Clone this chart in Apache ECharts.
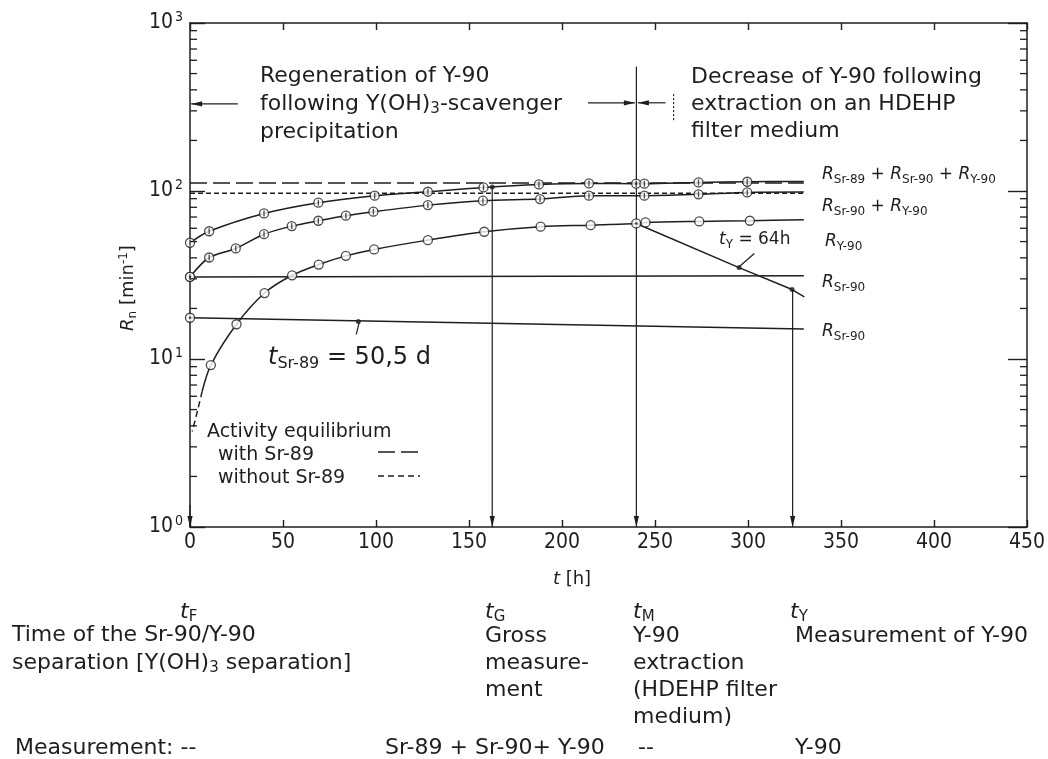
<!DOCTYPE html>
<html>
<head>
<meta charset="utf-8">
<title>Sr-90 / Y-90 count rates</title>
<script src="https://cdn.jsdelivr.net/npm/echarts@6/dist/echarts.min.js"></script>
<style>
html, body { margin: 0; padding: 0; background: #fff; }
#chart { width: 1048px; height: 759px; }
</style>
</head>
<body>
<div id="chart"></div>
<script>
// time t [h] and count rate R [1/min]
const totalT = [0, 10.3, 39.8, 69, 99.3, 127.9, 157.8, 187.6, 214.5, 239.9, 244.3, 273.4, 299.6]
const totalR = [49.2, 57.6, 73.5, 85.2, 93.8, 99, 105, 109.4, 111, 110.5, 110.5, 112.5, 113.5]
const sumT = [0, 10.3, 24.6, 39.8, 54.7, 69, 83.8, 98.6, 127.9, 157.5, 188.2, 214.5, 244.3, 273.4, 299.6]
const sumR = [30.8, 40.2, 45.5, 55.3, 61.8, 66.5, 71.3, 75.3, 82.4, 87.6, 89.5, 93.8, 93.8, 95.5, 98.1]
const yT = [11.2, 25, 40.1, 54.9, 69.2, 83.8, 99, 127.9, 158.2, 188.5, 215.4, 239.9, 244.9, 273.8, 301]
const yR = [9.2, 16.1, 24.7, 31.5, 36.5, 41.1, 44.9, 51, 57.2, 61.3, 62.6, 64.1, 65, 65.9, 66.5]
const yStartT = [6.5, 4, 1.2]          // dashed beginning of the Y-90 ingrowth
const yStartR = [6.4, 4.9, 3.7]
const endT = 330
const totalEnd = 114
const sumEnd = 98.5
const yEnd = 67.4
const sr90T = [0, 330]
const sr90R = [30.8, 31.3]
const sr89T = [0, 330]
const sr89R = [17.6, 15.1]
const decayT = [239.9, 295.2, 323.7, 330.3]
const decayR = [64.1, 35, 25.9, 23.4]
const eqWith = 111.5
const eqWithout = 97

// filled dots on the curves
const dotT = [162.5, 90.5, 295.2, 323.7]
const dotR = [105.5, 16.7, 35, 25.9]

// marker times
const tG = 162.5, tM = 240, tY = 324

// annotation segments: [t1, R1, t2, R2, arrowAtEnd, dashed]
const segments = [
    [0, 1.35, 0, 1, 1, 0],
    [tG, 105.5, tG, 1, 1, 0],
    [tM, 550, tM, 1, 1, 0],
    [tY, 25.9, tY, 1, 1, 0],
    [25.7, 330, 0.6, 330, 1, 0],
    [214, 335, 239.2, 335, 1, 0],
    [255.7, 335, 240.8, 335, 1, 0],
    [303.4, 42.5, 295.4, 35.5, 0, 0],
    [91, 16.6, 89.4, 14, 0, 0],
    [260, 377, 260, 262, 0, 1]
]

const decades = [1, 10, 100, 1000]
const minorSteps = [2, 3, 4, 5, 6, 7, 8, 9]

const ink = '#1e1e1e'
const sans = 'DejaVu Sans, Verdana, sans-serif'
const narrow = '"Liberation Sans Narrow", "DejaVu Sans Condensed", "DejaVu Sans", sans-serif'

const pairs = (ts, rs) => ts.map((t, i) => [t, rs[i]])
const minorVals = []
decades.slice(0, -1).forEach(d => minorSteps.forEach(m => minorVals.push(d * m)))

const chart = echarts.init(document.getElementById('chart'), null, { renderer: 'canvas' })

const lineSeries = (data, opts = {}) => Object.assign({
    type: 'line',
    data,
    symbol: 'none',
    smooth: false,
    silent: true,
    lineStyle: { color: ink, width: 1.5 },
    z: 2
}, opts)

const markerAll = [].concat(
    pairs(totalT, totalR), pairs(sumT, sumR), pairs(yT, yR),
    [[sr90T[0], sr90R[0]], [sr89T[0], sr89R[0]]]
)
const hatched = [].concat(pairs(totalT, totalR), pairs(sumT, sumR))
const centred = [[sr90T[0], sr90R[0]], [sr89T[0], sr89R[0]], [totalT[9], totalR[9]], [yT[11], yR[11]]]

const richSub = (size) => ({
    i: { fontStyle: 'italic', fontSize: size, fontFamily: sans, color: ink },
    s: { fontSize: Math.round(size * 0.68), fontFamily: sans, color: ink, padding: [Math.round(size * 0.5), 0, 0, 0] },
    p: { fontSize: Math.round(size * 0.68), fontFamily: sans, color: ink, padding: [0, 0, Math.round(size * 0.5), 0] }
})

const txt = (x, y, text, size, extra = {}) => ({
    type: 'text',
    x, y,
    silent: true,
    style: Object.assign({
        text,
        fontSize: size,
        fontFamily: sans,
        fill: ink,
        align: 'left',
        verticalAlign: 'middle',
        textAlign: 'left',
        textVerticalAlign: 'middle',
        rich: richSub(size)
    }, extra)
})

const blockTxt = (x, y, text, size, lh) => txt(x, y, text, size, {
    verticalAlign: 'top', textVerticalAlign: 'top', lineHeight: lh
})

const frameLine = { show: true, onZero: false, lineStyle: { color: ink, width: 1.5 } }

chart.setOption({
    animation: false,
    backgroundColor: '#fff',
    grid: { left: 190, right: 17, top: 23, bottom: 232, containLabel: false },
    xAxis: [
        {
            type: 'value', min: 0, max: 450, interval: 50, position: 'bottom',
            axisLine: frameLine,
            axisTick: { show: true, inside: true, length: 7, lineStyle: { color: ink, width: 1.4 } },
            axisLabel: { color: ink, fontSize: 21, fontFamily: narrow, margin: 5 },
            splitLine: { show: false }
        },
        {
            type: 'value', min: 0, max: 450, interval: 50, position: 'top',
            axisLine: frameLine,
            axisTick: { show: true, inside: true, length: 7, lineStyle: { color: ink, width: 1.4 } },
            axisLabel: { show: false },
            splitLine: { show: false }
        }
    ],
    yAxis: [
        {
            type: 'log', logBase: 10, min: 1, max: 1000, position: 'left',
            axisLine: frameLine,
            axisTick: { show: true, inside: true, length: 15, lineStyle: { color: ink, width: 1.4 } },
            axisLabel: {
                margin: 7,
                formatter: v => '{b|10}{e|' + Math.round(Math.log10(v)) + '}',
                rich: {
                    b: { fontSize: 21, fontFamily: narrow, color: ink },
                    e: { fontSize: 14, fontFamily: narrow, color: ink, padding: [0, 0, 12, 2] }
                }
            },
            splitLine: { show: false }
        },
        {
            type: 'log', logBase: 10, min: 1, max: 1000, position: 'right',
            axisLine: frameLine,
            axisTick: { show: true, inside: true, length: 19, lineStyle: { color: ink, width: 1.4 } },
            axisLabel: { show: false },
            splitLine: { show: false }
        }
    ],
    series: [
        lineSeries([[0, eqWith], [endT, eqWith]], { lineStyle: { color: ink, width: 1.5, type: [17, 6] } }),
        lineSeries([[0, eqWithout], [endT, eqWithout]], { lineStyle: { color: ink, width: 1.5, type: [5, 3] } }),
        lineSeries(pairs(totalT, totalR).concat([[endT, totalEnd]]), { smooth: 0.3 }),
        lineSeries(pairs(sumT, sumR).concat([[endT, sumEnd]]), { smooth: 0.3 }),
        lineSeries([[yStartT[0], yStartR[0]]].concat(pairs(yT, yR), [[endT, yEnd]]), { smooth: 0.3 }),
        lineSeries(pairs(yStartT, yStartR), { smooth: 0.3, lineStyle: { color: ink, width: 1.5, type: [6, 4] } }),
        lineSeries(pairs(sr90T, sr90R)),
        lineSeries(pairs(sr89T, sr89R)),
        lineSeries(pairs(decayT, decayR)),
        {
            type: 'scatter', data: markerAll, symbol: 'circle', symbolSize: 9, silent: true, z: 4,
            itemStyle: { color: '#fff', borderColor: ink, borderWidth: 1.3 }
        },
        {
            type: 'scatter', data: hatched, symbol: 'rect', symbolSize: [1.3, 6], silent: true, z: 5,
            itemStyle: { color: ink }
        },
        {
            type: 'scatter', data: centred, symbol: 'circle', symbolSize: 2.5, silent: true, z: 5,
            itemStyle: { color: ink }
        },
        {
            type: 'scatter', data: pairs(dotT, dotR), symbol: 'circle', symbolSize: 5, silent: true, z: 5,
            itemStyle: { color: ink }
        },
        {
            // minor log ticks on both frame sides
            type: 'custom', silent: true, z: 10, clip: false,
            data: minorVals.map(v => [200, v]),
            renderItem: (params, api) => {
                const cs = params.coordSys
                const y = api.coord([200, api.value(1)])[1]
                const xl = cs.x, xr = cs.x + cs.width
                return {
                    type: 'group',
                    children: [
                        { type: 'line', shape: { x1: xl, y1: y, x2: xl + 7, y2: y }, style: { stroke: ink, lineWidth: 1.3 } },
                        { type: 'line', shape: { x1: xr, y1: y, x2: xr - 7, y2: y }, style: { stroke: ink, lineWidth: 1.3 } }
                    ]
                }
            }
        },
        {
            type: 'custom', silent: true, z: 3, clip: false,
            data: segments,
            renderItem: (params, api) => {
                const p1 = api.coord([api.value(0), api.value(1)])
                const p2 = api.coord([api.value(2), api.value(3)])
                const children = [{
                    type: 'line',
                    shape: { x1: p1[0], y1: p1[1], x2: p2[0], y2: p2[1] },
                    style: { stroke: ink, lineWidth: 1.2, lineDash: api.value(5) ? [2, 2] : null }
                }]
                if (api.value(4)) {
                    const dx = p2[0] - p1[0], dy = p2[1] - p1[1]
                    const len = Math.hypot(dx, dy) || 1
                    const ux = dx / len, uy = dy / len
                    const L = 11, W = 2.6
                    const bx = p2[0] - ux * L, by = p2[1] - uy * L
                    children.push({
                        type: 'polygon',
                        shape: { points: [[p2[0], p2[1]], [bx - uy * W, by + ux * W], [bx + uy * W, by - ux * W]] },
                        style: { fill: ink }
                    })
                }
                return { type: 'group', children }
            }
        }
    ],
    graphic: [
        blockTxt(260, 62, 'Regeneration of Y-90\nfollowing Y(OH){s|3}-scavenger\nprecipitation', 22, 28),
        blockTxt(691, 64, 'Decrease of Y-90 following\nextraction on an HDEHP\nfilter medium', 22, 27),

        txt(822, 175, '{i|R}{s|Sr-89} + {i|R}{s|Sr-90} + {i|R}{s|Y-90}', 17),
        txt(822, 207, '{i|R}{s|Sr-90} + {i|R}{s|Y-90}', 17),
        txt(825, 242, '{i|R}{s|Y-90}', 17),
        txt(822, 283, '{i|R}{s|Sr-90}', 17),
        txt(822, 332, '{i|R}{s|Sr-90}', 17),

        txt(719, 240, '{i|t}{s|Y} = 64h', 17),
        txt(268, 358, '{i|t}{s|Sr-89} = 50,5 d', 24),

        txt(207, 432, 'Activity equilibrium', 19),
        txt(218, 455, 'with Sr-89', 19),
        txt(218, 478, 'without Sr-89', 19),
        { type: 'line', silent: true, shape: { x1: 378, y1: 452, x2: 420, y2: 452 },
          style: { stroke: ink, lineWidth: 1.5, lineDash: [17, 6] } },
        { type: 'line', silent: true, shape: { x1: 378, y1: 476, x2: 420, y2: 476 },
          style: { stroke: ink, lineWidth: 1.5, lineDash: [6, 4] } },

        // axis names
        Object.assign(txt(128, 288, '{i|R}{s|n} [min{p|-1}]', 18,
            { align: 'center', textAlign: 'center' }), { rotation: Math.PI / 2 }),
        txt(572, 579, '{i|t} [h]', 18, { align: 'center', textAlign: 'center' }),

        // explanation under the chart
        txt(180, 612, '{i|t}{s|F}', 22),
        blockTxt(12, 621, 'Time of the Sr-90/Y-90\nseparation [Y(OH){s|3} separation]', 22, 28),
        txt(485, 612, '{i|t}{s|G}', 22),
        blockTxt(485, 623, 'Gross\nmeasure-\nment', 22, 27),
        txt(633, 612, '{i|t}{s|M}', 22),
        blockTxt(633, 623, 'Y-90\nextraction\n(HDEHP filter\nmedium)', 22, 27),
        txt(790, 612, '{i|t}{s|Y}', 22),
        txt(795, 636, 'Measurement of Y-90', 22),
        txt(15, 748, 'Measurement: --', 22),
        txt(385, 748, 'Sr-89 + Sr-90+ Y-90', 22),
        txt(638, 748, '--', 22),
        txt(795, 748, 'Y-90', 22)
    ]
})
</script>
</body>
</html>
